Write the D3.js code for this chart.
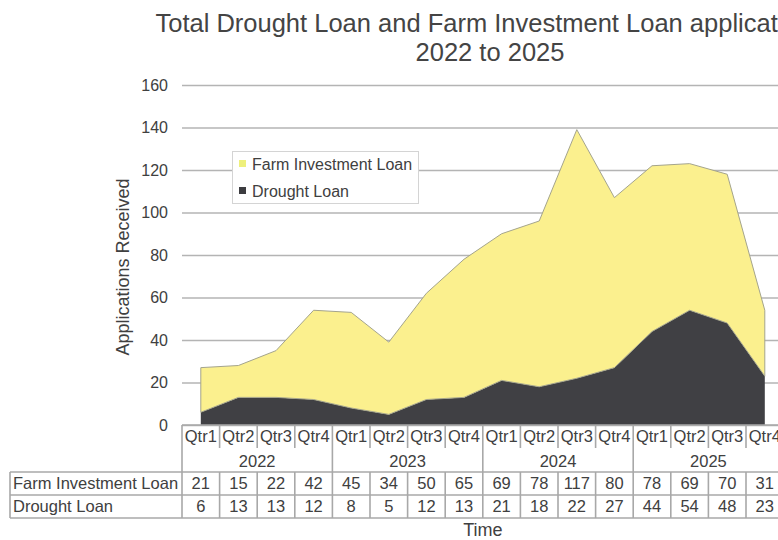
<!DOCTYPE html>
<html>
<head>
<meta charset="utf-8">
<script src="https://cdn.jsdelivr.net/npm/d3@7"></script>
<style>
  html, body { margin: 0; padding: 0; background: #fff; overflow: hidden; }
  svg { display: block; }
  text { font-family: "Liberation Sans", Arial, sans-serif; fill: #404040; }
</style>
</head>
<body>
<svg id="chart" width="778" height="540"></svg>
<script>
// Quarterly applications received, 2022–2025
const years = ["2022", "2023", "2024", "2025"];
const quarters = ["Qtr1", "Qtr2", "Qtr3", "Qtr4"];
const seriesNames = ["Drought Loan", "Farm Investment Loan"];
const droughtLoan = [6, 13, 13, 12, 8, 5, 12, 13, 21, 18, 22, 27, 44, 54, 48, 23];
const farmInvestmentLoan = [21, 15, 22, 42, 45, 34, 50, 65, 69, 78, 117, 80, 78, 69, 70, 31];
const yTicks = [0, 20, 40, 60, 80, 100, 120, 140, 160];

const periods = years.flatMap(y => quarters.map(q => ({ year: y, quarter: q })));
const rows = periods.map((p, i) => ({
  idx: i,
  year: p.year,
  quarter: p.quarter,
  "Drought Loan": droughtLoan[i],
  "Farm Investment Loan": farmInvestmentLoan[i]
}));

const colors = { "Drought Loan": "#404044", "Farm Investment Loan": "#fbf08e" };
const legendMarks = { "Drought Loan": "#3c3c40", "Farm Investment Loan": "#eef07c" };

const svg = d3.select("#chart");
const plotLeft = 182, plotRight = 783.6, plotTop = 85, plotBottom = 425;
const gridColor = "#b4b4b4", tableColor = "#a8a8a8";

const x = d3.scaleBand().domain(d3.range(periods.length)).range([plotLeft, plotRight]).padding(0);
const xc = i => x(i) + x.bandwidth() / 2;
const y = d3.scaleLinear().domain([0, 160]).range([plotBottom, plotTop]);

// Title (wider than the window; the right end runs off the page)
const titleX = 490;
const title = svg.append("text").attr("x", titleX).attr("text-anchor", "middle")
  .style("font-size", "25.5px").style("fill", "#444");
title.append("tspan").attr("x", titleX).attr("y", 32).text("Total Drought Loan and Farm Investment Loan applications");
title.append("tspan").attr("x", titleX).attr("y", 61).text("2022 to 2025");

// Horizontal gridlines and value axis
const yAxis = d3.axisLeft(y).tickValues(yTicks).tickSize(-(plotRight - plotLeft)).tickPadding(14);
const yg = svg.append("g").attr("transform", `translate(${plotLeft},0)`).call(yAxis);
yg.select(".domain").remove();
yg.selectAll(".tick line").attr("stroke", gridColor).attr("stroke-width", 1.6);
yg.selectAll(".tick text").style("font-size", "16px").style("fill", "#404040")
  .style("font-family", "'Liberation Sans', Arial, sans-serif");

svg.append("text")
  .attr("transform", `translate(123,267) rotate(-90)`)
  .attr("text-anchor", "middle").attr("dy", "0.35em")
  .style("font-size", "18px")
  .text("Applications Received");

// Stacked areas
const stack = d3.stack().keys(seriesNames);
const layers = stack(rows);
const area = d3.area()
  .x(d => xc(d.data.idx))
  .y0(d => y(d[0]))
  .y1(d => y(d[1]));

svg.append("g").selectAll("path")
  .data(layers)
  .join("path")
  .attr("d", area)
  .attr("fill", d => colors[d.key])
  .attr("stroke", d => d.key === "Farm Investment Loan" ? "#a4a48c" : "none")
  .attr("stroke-width", 1);

// Legend
const lg = svg.append("g");
lg.append("rect").attr("x", 232.5).attr("y", 151.5).attr("width", 186).attr("height", 52)
  .attr("fill", "#fff").attr("stroke", "#d4d4d4").attr("stroke-width", 1);
const legendOrder = ["Farm Investment Loan", "Drought Loan"];
legendOrder.forEach((k, i) => {
  const cy = 164 + i * 27;
  lg.append("rect").attr("x", 239).attr("y", cy - 4).attr("width", 7).attr("height", 7)
    .attr("fill", legendMarks[k]);
  lg.append("text").attr("x", 252).attr("y", cy).attr("dy", "0.35em")
    .style("font-size", "16px").text(k);
});

// Category axis line and data table
const tbl = svg.append("g").attr("stroke", tableColor).attr("stroke-width", 1.6).attr("fill", "none");
const rowTop = 472, rowMid = 495, rowBot = 518, labelLeft = 10;

tbl.append("line").attr("x1", plotLeft).attr("x2", plotRight).attr("y1", plotBottom).attr("y2", plotBottom);
// quarter separators
d3.range(1, periods.length).filter(i => i % 4 !== 0).forEach(i => {
  tbl.append("line").attr("x1", x(i)).attr("x2", x(i)).attr("y1", plotBottom).attr("y2", 448);
});
// year group separators
d3.range(0, periods.length + 1, 4).forEach(i => {
  const xx = i === periods.length ? plotRight : x(i);
  tbl.append("line").attr("x1", xx).attr("x2", xx).attr("y1", plotBottom).attr("y2", rowTop);
});
// data row grid
[rowTop, rowMid, rowBot].forEach(yy => {
  tbl.append("line").attr("x1", labelLeft).attr("x2", plotRight).attr("y1", yy).attr("y2", yy);
});
tbl.append("line").attr("x1", labelLeft).attr("x2", labelLeft).attr("y1", rowTop).attr("y2", rowBot);
d3.range(0, periods.length + 1).forEach(i => {
  const xx = i === periods.length ? plotRight : x(i);
  tbl.append("line").attr("x1", xx).attr("x2", xx).attr("y1", rowTop).attr("y2", rowBot);
});

const txt = svg.append("g").style("font-size", "16.5px");
rows.forEach(r => {
  txt.append("text").attr("x", xc(r.idx)).attr("y", 436).attr("dy", "0.35em")
    .attr("text-anchor", "middle").text(r.quarter);
  txt.append("text").attr("x", xc(r.idx)).attr("y", 483.5).attr("dy", "0.35em")
    .attr("text-anchor", "middle").text(r["Farm Investment Loan"]);
  txt.append("text").attr("x", xc(r.idx)).attr("y", 506.5).attr("dy", "0.35em")
    .attr("text-anchor", "middle").text(r["Drought Loan"]);
});
years.forEach((yr, j) => {
  const cx = (x(j * 4) + (j === 3 ? plotRight : x(j * 4 + 4))) / 2;
  txt.append("text").attr("x", cx).attr("y", 461).attr("dy", "0.35em")
    .attr("text-anchor", "middle").text(yr);
});
txt.append("text").attr("x", 13).attr("y", 483.5).attr("dy", "0.35em").text("Farm Investment Loan");
txt.append("text").attr("x", 13).attr("y", 506.5).attr("dy", "0.35em").text("Drought Loan");

svg.append("text").attr("x", (plotLeft + plotRight) / 2).attr("y", 536)
  .attr("text-anchor", "middle").style("font-size", "18px").text("Time");
</script>
</body>
</html>
